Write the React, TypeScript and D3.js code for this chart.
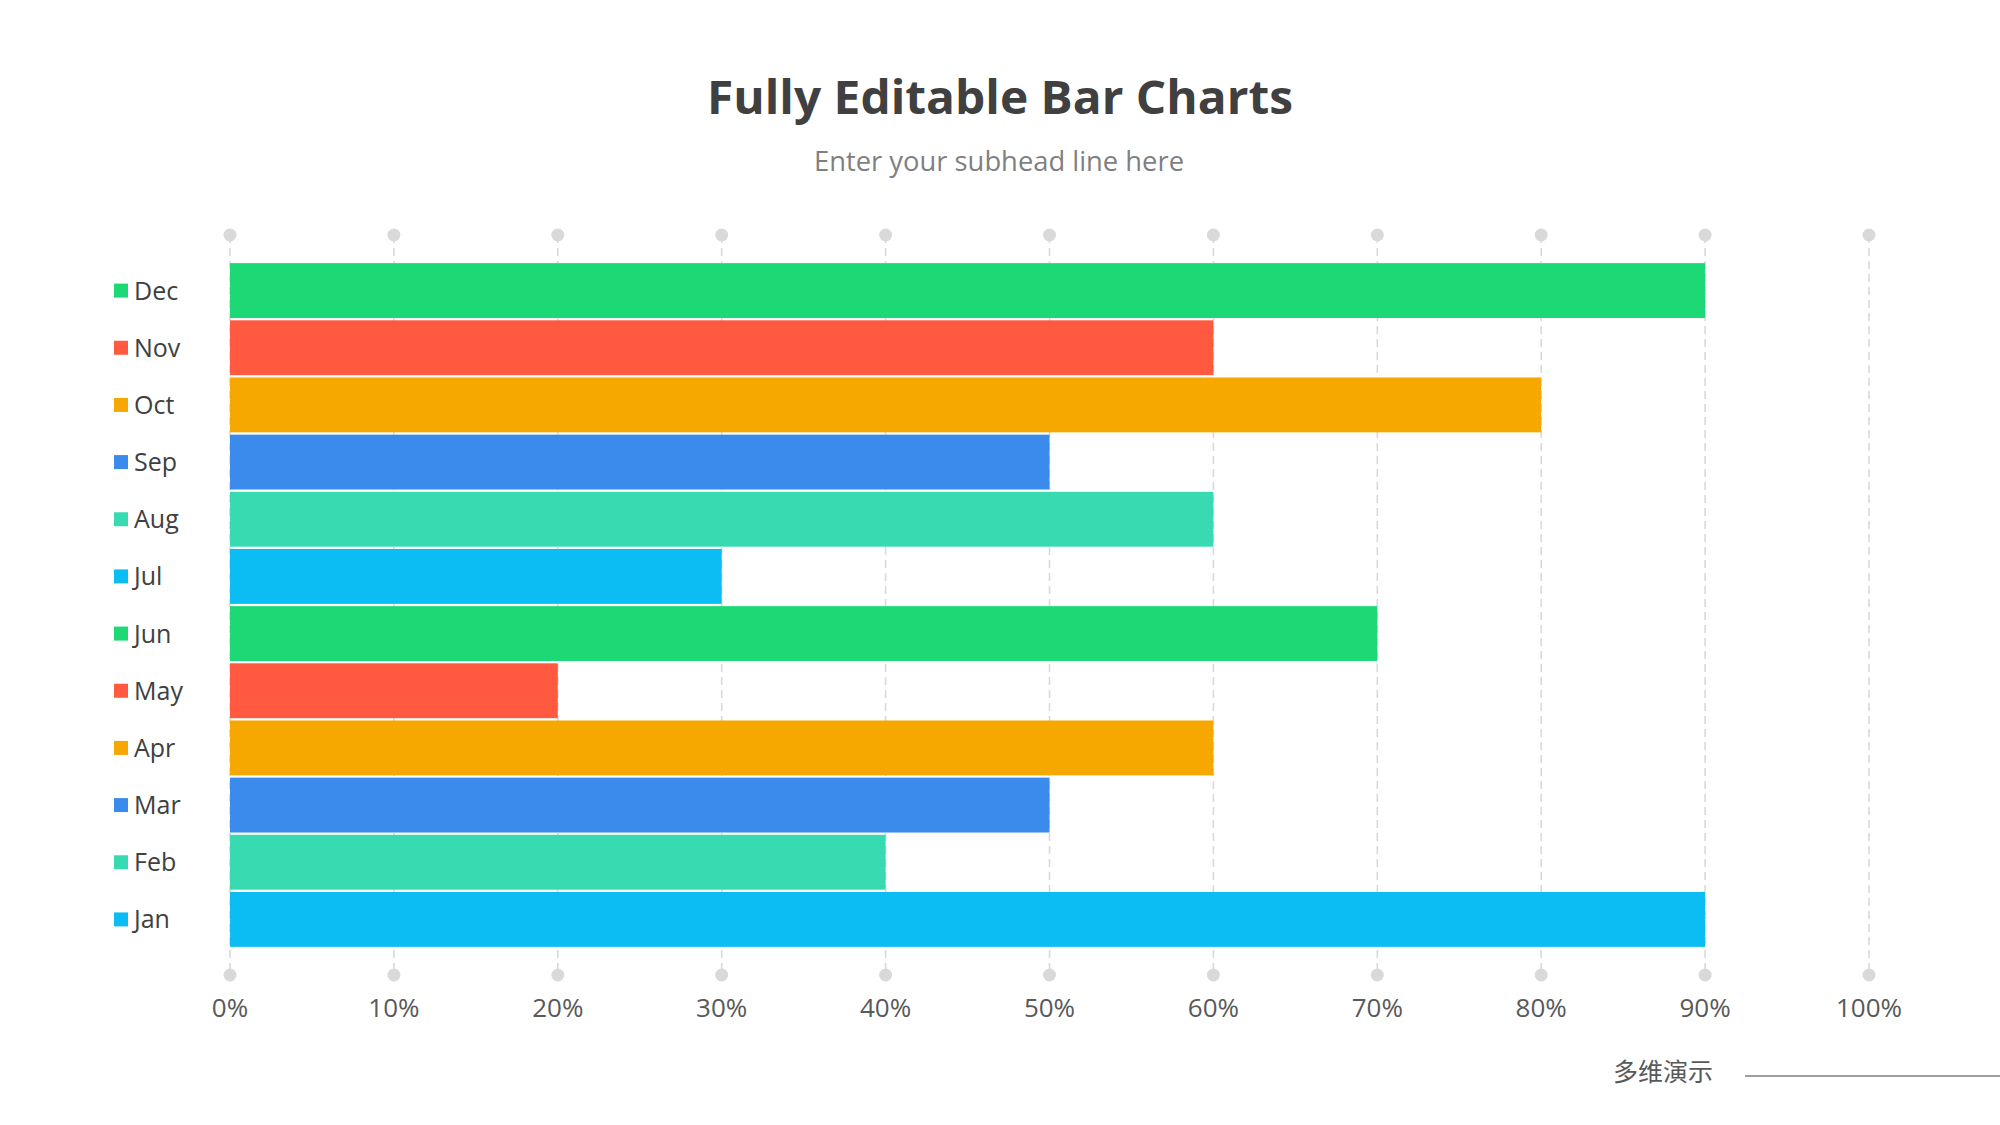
import { scaleBand, scaleLinear } from "d3";

const WIDTH = 2000;
const HEIGHT = 1125;

const MONTHS = ["Jan", "Feb", "Mar", "Apr", "May", "Jun", "Jul", "Aug", "Sep", "Oct", "Nov", "Dec"];
const VALUES = [90, 40, 50, 60, 20, 70, 30, 60, 50, 80, 60, 90];
const PALETTE = ["#0bbdf2", "#38dbb1", "#3a8bec", "#f6a800", "#ff5940", "#1dd975"];
const TICKS = [0, 10, 20, 30, 40, 50, 60, 70, 80, 90, 100];

const FONT = "'Open Sans', 'Noto Sans', sans-serif";
const GRID = "#d9d9d9";

export default function App() {
  const x = scaleLinear().domain([0, 100]).range([230, 1869]);
  // Dec sits at the top, Jan at the bottom
  const y = scaleBand<string>()
    .domain([...MONTHS].reverse())
    .range([262, 948])
    .paddingInner(0.04)
    .paddingOuter(0.02);

  const gridTop = 235;
  const gridBottom = 975;

  return (
    <svg
      width={WIDTH}
      height={HEIGHT}
      viewBox={`0 0 ${WIDTH} ${HEIGHT}`}
      style={{ position: "absolute", left: 0, top: 0, background: "#fff" }}
    >
      <text
        x={1000}
        y={114}
        textAnchor="middle"
        fontFamily={FONT}
        fontWeight={700}
        fontSize={47}
        textLength={586}
        lengthAdjust="spacingAndGlyphs"
        fill="#404040"
      >
        Fully Editable Bar Charts
      </text>
      <text
        x={999}
        y={171}
        textAnchor="middle"
        fontFamily={FONT}
        fontSize={27}
        textLength={370}
        lengthAdjust="spacingAndGlyphs"
        fill="#7f7f7f"
      >
        Enter your subhead line here
      </text>

      {TICKS.map((t) => (
        <g key={t}>
          <line
            x1={x(t)}
            x2={x(t)}
            y1={gridTop}
            y2={gridBottom}
            stroke={GRID}
            strokeWidth={1.6}
            strokeDasharray="8 5"
          />
          <circle cx={x(t)} cy={gridTop} r={6.5} fill={GRID} />
          <circle cx={x(t)} cy={gridBottom} r={6.5} fill={GRID} />
          <text
            x={x(t)}
            y={1017}
            textAnchor="middle"
            fontFamily={FONT}
            fontSize={26}
            fill="#595959"
          >
            {`${t}%`}
          </text>
        </g>
      ))}

      {MONTHS.map((m, i) => {
        const color = PALETTE[i % PALETTE.length];
        const top = y(m) ?? 0;
        const mid = top + y.bandwidth() / 2;
        return (
          <g key={m}>
            <rect x={x(0)} y={top} width={x(VALUES[i]) - x(0)} height={y.bandwidth()} fill={color} />
            <rect x={114} y={mid - 7} width={14} height={14} fill={color} />
            <text x={134} y={mid + 9} fontFamily={FONT} fontSize={25} fill="#404040">
              {m}
            </text>
          </g>
        );
      })}

      <text
        x={1663}
        y={1081}
        textAnchor="middle"
        fontFamily="'Noto Sans CJK SC', sans-serif"
        fontSize={25}
        fill="#595959"
      >
        多维演示
      </text>
      <line x1={1745} x2={2000} y1={1076} y2={1076} stroke="#7f7f7f" strokeWidth={1.5} />
    </svg>
  );
}
